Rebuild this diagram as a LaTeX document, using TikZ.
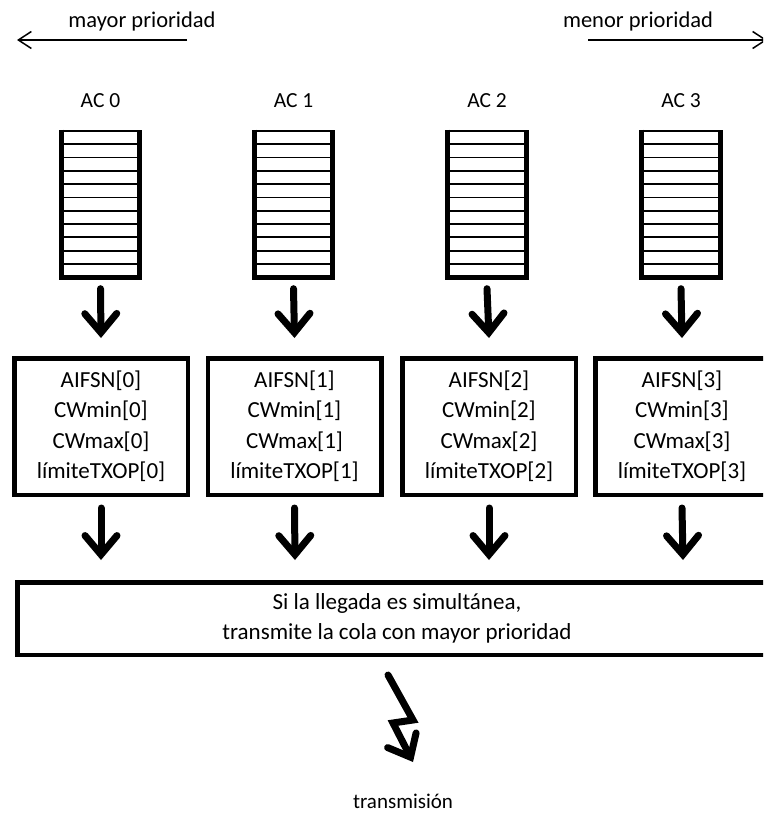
\documentclass[tikz,border=0pt]{standalone}
\usepackage{fontspec}
\setmainfont{Carlito}
\usetikzlibrary{arrows.meta}
\begin{document}
\begin{tikzpicture}[x=1pt,y=-1pt,
  toplabel/.style={font=\fontsize{22.5}{26}\selectfont, inner sep=0pt},
  aclabel/.style={font=\fontsize{21.5}{25}\selectfont, inner sep=0pt},
  queuebox/.style={draw=none, minimum width=78pt, minimum height=146.5pt, inner sep=0pt},
  queueside/.style={line width=5pt, line join=miter},
  queueslot/.style={line width=1.8pt},
  parambox/.style={draw, line width=4.5pt, minimum width=173.5pt, minimum height=136.5pt,
    align=center, inner sep=0pt, font=\fontsize{23}{30.5}\selectfont},
  arbiter/.style={draw, line width=4.5pt, minimum width=759.5pt, minimum height=72.5pt,
    align=center, inner sep=0pt, font=\fontsize{23}{30}\selectfont},
  fatarrow/.style={line width=7pt, line cap=round,
    -{Straight Barb[length=19pt,width=32pt,line cap=round,line join=miter]}},
  thinarrow/.style={line width=1.5pt,
    -{Straight Barb[length=13pt,width=17pt]}},
]
\path[use as bounding box] (0,0) rectangle (763,813);
\clip (0,0) rectangle (763,813);

% priority direction
\node[toplabel] (hi) at (142,22) {mayor prioridad};
\node[toplabel] (lo) at (638,22) {menor prioridad};
\coordinate (hiA) at (187,40);
\coordinate (hiB) at (17,40);
\coordinate (loA) at (588,40);
\coordinate (loB) at (767,40);
\draw[thinarrow] (hiA) -- (hiB);
\draw[thinarrow] (loA) -- (loB);

% access categories: label, queue, parameter box
\foreach \i/\cx/\bx in {0/100.5/101, 1/293.5/294.5, 2/487/489, 3/681/682}{
  \node[aclabel] (ac\i) at (\cx,101) {AC \i};
  \node[queuebox] (q\i) at (\cx,204.25) {};
  \foreach \k in {1,...,10}{
    \draw[queueslot] ([yshift={-\k*13.32pt}]q\i.north west) -- ([yshift={-\k*13.32pt}]q\i.north east);
  }
  \draw[line width=2.2pt] (q\i.north west) -- (q\i.north east);
  \draw[queueside] ([yshift=1.1pt]q\i.north west) -- (q\i.south west) -- (q\i.south east) -- ([yshift=1.1pt]q\i.north east);
  \node[parambox] (b\i) at (\bx,426.5) {AIFSN[\i]\\CWmin[\i]\\CWmax[\i]\\límiteTXOP[\i]};
  \draw[fatarrow] ([yshift=-11pt]q\i.south) -- ([yshift=18pt]b\i.north);
}

% arbitration between the queues
\node[arbiter] (arb) at (397,618.5) {Si la llegada es simultánea,\\transmite la cola con mayor prioridad};
\foreach \i in {0,...,3}{
  \draw[fatarrow] ([yshift=-11pt]b\i.south) -- ([xshift={(\i*194-296)*1pt}, yshift=20pt]arb.north);
}

% transmission
\node[font=\fontsize{21}{25}\selectfont, inner sep=0pt] (tx) at (403,801) {transmisión};
\draw[fatarrow] ([shift={(-9,18)}]arb.south) -- ++(25,45) -- ++(-20,3) -- ++(20,39);
\end{tikzpicture}
\end{document}
